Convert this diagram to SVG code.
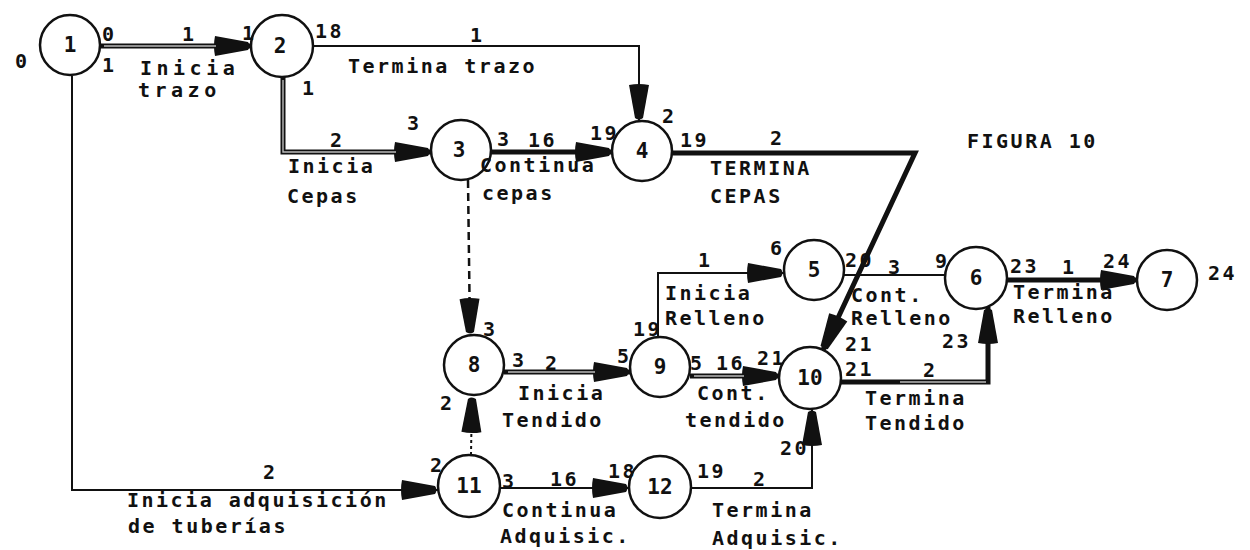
<svg xmlns="http://www.w3.org/2000/svg" width="1250" height="550" viewBox="0 0 1250 550">
<style>
text{font-family:"DejaVu Sans Mono","Liberation Mono",monospace;font-size:20px;font-weight:bold;fill:#111;letter-spacing:2.5px}
.node circle{fill:#fff;stroke:#111;stroke-width:2.5}
.node text{text-anchor:middle;letter-spacing:0;font-size:21px}
.thin{fill:none;stroke:#111;stroke-width:2}
.thick{fill:none;stroke:#111;stroke-width:5}
.dbl{fill:none;stroke:#111;stroke-width:5}
.core{fill:none;stroke:#bbb;stroke-width:1.4}
.dash{fill:none;stroke:#111;stroke-width:2.5;stroke-dasharray:8 5}
.dot{fill:none;stroke:#111;stroke-width:2;stroke-dasharray:3 3}
.wide{letter-spacing:4.5px}
</style>
<defs>
<marker id="ah" markerUnits="userSpaceOnUse" viewBox="-3 -12 42 24" markerWidth="42" markerHeight="24" refX="36" refY="0" orient="auto">
<path d="M0,-10 L33,-4 Q36,0 33,4 L0,10 Q-2,0 0,-10 Z" fill="#111"/>
</marker>
</defs>
<rect width="1250" height="550" fill="#fff"/>
<g id="connectors">
<path class="dbl" d="M100,46 L251,46" marker-end="url(#ah)"/>
<path class="core" d="M104,46 L216,46"/>
<path class="thin" d="M313,46 L639,46 L639,121" marker-end="url(#ah)"/>
<path class="dbl" d="M283,77 L283,152 L431,152" marker-end="url(#ah)"/>
<path class="core" d="M283,80 L283,152 L396,152"/>
<path class="thick" d="M491,152 L612,152" marker-end="url(#ah)"/>
<path class="thick" d="M672,153 L915,153 L823,350" marker-end="url(#ah)"/>
<path class="dash" d="M468,180 L470,335" marker-end="url(#ah)"/>
<path class="dbl" d="M504,372 L630,372" marker-end="url(#ah)"/>
<path class="core" d="M508,372 L595,372"/>
<path class="thin" d="M658,337 L658,273 L784,273" marker-end="url(#ah)"/>
<path class="dbl" d="M690,376 L779,376" marker-end="url(#ah)"/>
<path class="core" d="M694,376 L744,376"/>
<path class="thin" d="M844,275 L945,275"/>
<path class="dbl" d="M841,382 L988,382 L988,307" marker-end="url(#ah)"/>
<path class="core" d="M900,382 L986,382"/>
<path class="thick" d="M1007,280 L1137,280" marker-end="url(#ah)"/>
<path class="thin" d="M72,76 L72,490 L438,490" marker-end="url(#ah)"/>
<path class="dot" d="M471,455 L472,396" marker-end="url(#ah)"/>
<path class="thin" d="M500,488 L629,488" marker-end="url(#ah)"/>
<path class="thin" d="M691,488 L812,488 L812,409" marker-end="url(#ah)"/>
</g>
<g id="n1" class="node"><circle cx="70" cy="45" r="30"/><text x="70" y="52">1</text></g>
<g id="n2" class="node"><circle cx="282" cy="46" r="31"/><text x="280" y="53">2</text></g>
<g id="n3" class="node"><circle cx="461" cy="150" r="30"/><text x="459" y="157">3</text></g>
<g id="n4" class="node"><circle cx="642" cy="151" r="30"/><text x="642" y="158">4</text></g>
<g id="n5" class="node"><circle cx="814" cy="270" r="30"/><text x="814" y="277">5</text></g>
<g id="n6" class="node"><circle cx="976" cy="278" r="31"/><text x="976" y="285">6</text></g>
<g id="n7" class="node"><circle cx="1167" cy="280" r="30"/><text x="1167" y="287">7</text></g>
<g id="n8" class="node"><circle cx="474" cy="365" r="30"/><text x="474" y="372">8</text></g>
<g id="n9" class="node"><circle cx="660" cy="367" r="30"/><text x="660" y="374">9</text></g>
<g id="n10" class="node"><circle cx="810" cy="378" r="31"/><text x="810" y="385">10</text></g>
<g id="n11" class="node"><circle cx="469" cy="486" r="31"/><text x="469" y="493">11</text></g>
<g id="n12" class="node"><circle cx="660" cy="487" r="31"/><text x="660" y="494">12</text></g>
<g id="labels">
<text x="15" y="68">0</text>
<text x="102" y="41">0</text>
<text x="102" y="72">1</text>
<text x="182" y="41">1</text>
<text class="wide" x="140" y="75">Inicia</text>
<text class="wide" x="138" y="97">trazo</text>
<text x="242" y="40">1</text>
<text x="315" y="38">18</text>
<text x="302" y="95">1</text>
<text x="470" y="42">1</text>
<text x="348" y="73">Termina trazo</text>
<text x="330" y="147">2</text>
<text x="407" y="130">3</text>
<text x="288" y="173">Inicia</text>
<text x="287" y="203">Cepas</text>
<text x="497" y="146">3</text>
<text x="528" y="147">16</text>
<text x="590" y="140">19</text>
<text x="662" y="123">2</text>
<text x="480" y="172">Continua</text>
<text x="482" y="200">cepas</text>
<text x="680" y="147">19</text>
<text x="770" y="145">2</text>
<text x="710" y="175">TERMINA</text>
<text x="710" y="203">CEPAS</text>
<text x="967" y="148">FIGURA 10</text>
<text x="483" y="336">3</text>
<text x="512" y="367">3</text>
<text x="545" y="370">2</text>
<text x="518" y="400">Inicia</text>
<text x="502" y="427">Tendido</text>
<text x="440" y="410">2</text>
<text x="633" y="336">19</text>
<text x="617" y="363">5</text>
<text x="698" y="267">1</text>
<text x="665" y="300">Inicia</text>
<text x="665" y="325">Relleno</text>
<text x="770" y="255">6</text>
<text x="845" y="267">20</text>
<text x="888" y="274">3</text>
<text x="935" y="268">9</text>
<text x="851" y="302">Cont.</text>
<text x="851" y="325">Relleno</text>
<text x="1010" y="273">23</text>
<text x="1062" y="274">1</text>
<text x="1103" y="268">24</text>
<text x="1208" y="280">24</text>
<text x="1013" y="299">Termina</text>
<text x="1013" y="323">Relleno</text>
<text x="690" y="370">5</text>
<text x="716" y="370">16</text>
<text x="757" y="365">21</text>
<text x="697" y="400">Cont.</text>
<text x="685" y="427">tendido</text>
<text x="845" y="351">21</text>
<text x="845" y="376">21</text>
<text x="942" y="348">23</text>
<text x="923" y="377">2</text>
<text x="865" y="405">Termina</text>
<text x="865" y="430">Tendido</text>
<text x="780" y="455">20</text>
<text x="263" y="479">2</text>
<text x="127" y="507">Inicia adquisición</text>
<text x="128" y="533">de tuberías</text>
<text x="430" y="472">2</text>
<text x="502" y="488">3</text>
<text x="550" y="486">16</text>
<text x="608" y="478">18</text>
<text x="697" y="478">19</text>
<text x="753" y="486">2</text>
<text x="502" y="517">Continua</text>
<text x="500" y="543">Adquisic.</text>
<text x="712" y="517">Termina</text>
<text x="712" y="545">Adquisic.</text>
</g>
</svg>
